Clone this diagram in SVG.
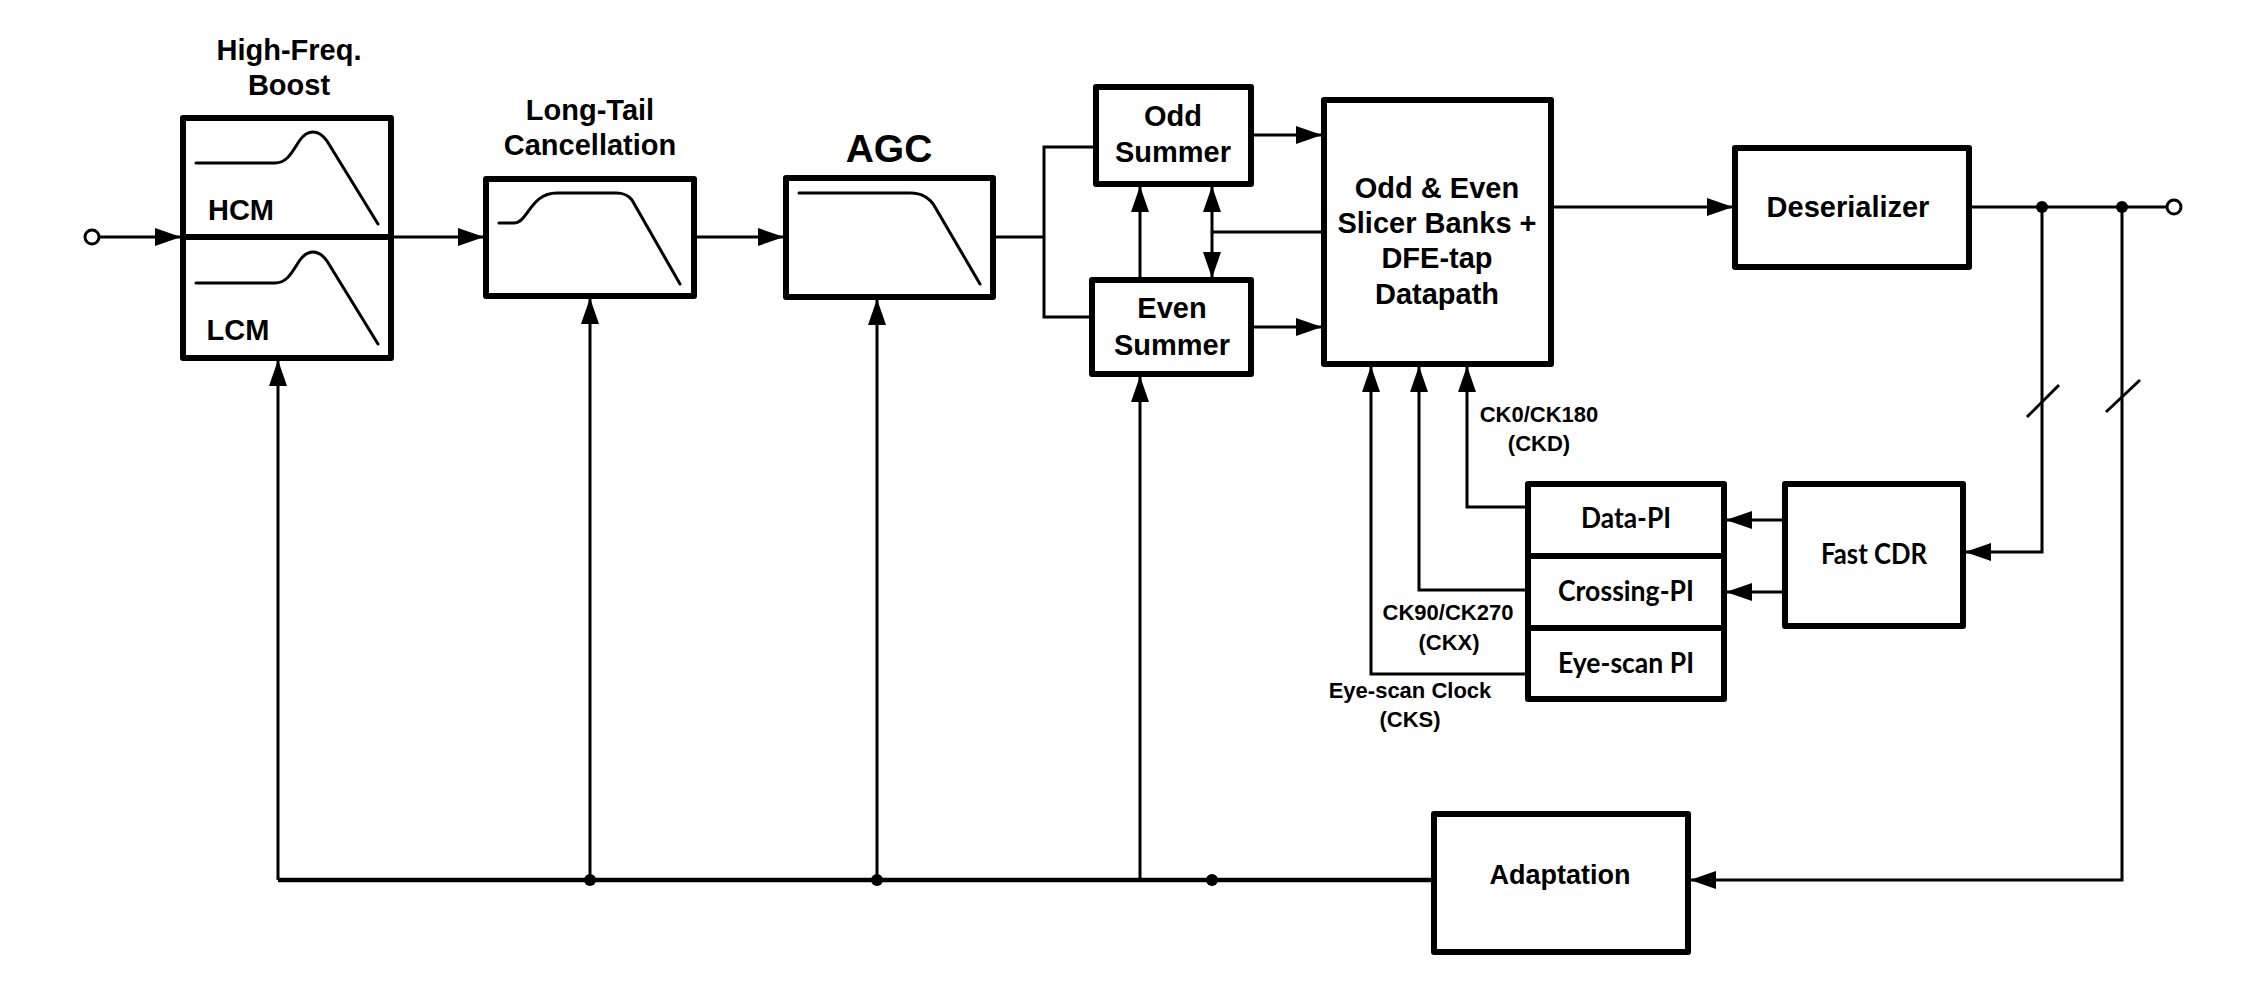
<svg xmlns="http://www.w3.org/2000/svg" width="2259" height="986" viewBox="0 0 2259 986">
<style>
.box{fill:#fff;stroke:#000;stroke-width:6;stroke-linejoin:round}
.div{stroke:#000;stroke-width:6}
.w{fill:none;stroke:#000;stroke-width:3}
.bus{fill:none;stroke:#000;stroke-width:4.5}
.a{marker-end:url(#ah)}
.aa{marker-end:url(#ah);marker-start:url(#ah)}
.t{font-family:"Liberation Sans",Arial,sans-serif;font-weight:bold;font-size:29px;text-anchor:middle;fill:#000}
.c{font-family:Lato,"Open Sans",sans-serif;font-weight:bold;font-size:28px;text-anchor:middle;fill:#000}
.s{font-size:22px}
.dot{fill:#000}
.curve{fill:none;stroke:#000;stroke-width:3;stroke-linecap:round;stroke-linejoin:round}
.port{fill:#fff;stroke:#000;stroke-width:3}
</style>
<defs>
<marker id="ah" markerUnits="userSpaceOnUse" markerWidth="26" markerHeight="18" viewBox="0 0 26 18" refX="25" refY="9" orient="auto-start-reverse"><path d="M0,0 L26,9 L0,18 z" fill="#000"/></marker>
</defs>

<g id="connectors">
<line class="w a" x1="99" y1="237" x2="180" y2="237"/>
<line class="w a" x1="394" y1="237" x2="483" y2="237"/>
<line class="w a" x1="697" y1="237" x2="783" y2="237"/>
<polyline class="w" points="996,237 1044,237"/>
<polyline class="w" points="1093,147 1044,147 1044,317 1089,317"/>
<line class="w a" x1="1254" y1="135" x2="1321" y2="135"/>
<line class="w a" x1="1254" y1="327" x2="1321" y2="327"/>
<line class="w a" x1="1140" y1="277" x2="1140" y2="187"/>
<line class="w aa" x1="1212" y1="277" x2="1212" y2="187"/>
<line class="w" x1="1212" y1="232" x2="1321" y2="232"/>
<line class="w a" x1="1554" y1="207" x2="1732" y2="207"/>
<line class="w" x1="1972" y1="207" x2="2167" y2="207"/>
<polyline class="w a" points="2042,207 2042,552 1966,552"/>
<polyline class="w a" points="2122,207 2122,880 1691,880"/>
<line class="w" x1="2027" y1="417" x2="2059" y2="385"/>
<line class="w" x1="2106" y1="412" x2="2140" y2="380"/>
<line class="w a" x1="1782" y1="520" x2="1727" y2="520"/>
<line class="w a" x1="1782" y1="592" x2="1727" y2="592"/>
<polyline class="w a" points="1525,507 1467,507 1467,367"/>
<polyline class="w a" points="1525,590 1419,590 1419,367"/>
<polyline class="w a" points="1525,674 1371,674 1371,367"/>
<line class="bus" x1="278" y1="880" x2="1431" y2="880"/>
<line class="w a" x1="278" y1="880" x2="278" y2="361"/>
<line class="w a" x1="590" y1="880" x2="590" y2="299"/>
<line class="w a" x1="877" y1="880" x2="877" y2="300"/>
<line class="w a" x1="1140" y1="880" x2="1140" y2="377"/>
<circle class="dot" cx="2042" cy="207" r="6"/>
<circle class="dot" cx="2122" cy="207" r="6"/>
<circle class="dot" cx="590" cy="880" r="6"/>
<circle class="dot" cx="877" cy="880" r="6"/>
<circle class="dot" cx="1212" cy="880" r="6"/>
<circle class="port" cx="92" cy="237" r="7"/>
<circle class="port" cx="2174" cy="207" r="7"/>
</g>

<g id="hfb">
<rect class="box" x="183" y="118" width="208" height="240"/>
<line class="div" x1="180" y1="237" x2="394" y2="237"/>
<path class="curve" d="M196,163 L275,163 C288,163 293,150 300,140 C305,133 309,132 313,132 C318,132 322,134 327,141 L378,224"/>
<path class="curve" d="M196,283 L275,283 C288,283 293,270 300,260 C305,253 309,252 313,252 C318,252 322,254 327,261 L378,344"/>
<text class="t" x="241" y="220" font-size="28">HCM</text>
<text class="t" x="238" y="340" font-size="28">LCM</text>
<text class="t" x="289" y="60">High-Freq.</text>
<text class="t" x="289" y="95">Boost</text>
</g>

<g id="ltc">
<rect class="box" x="486" y="179" width="208" height="117"/>
<path class="curve" d="M499,223 L514,223 C528,223 530,193 557,193 L616,193 C624,193 628,195 632,200 L680,284"/>
<text class="t" x="590" y="120">Long-Tail</text>
<text class="t" x="590" y="155">Cancellation</text>
</g>

<g id="agc">
<rect class="box" x="786" y="178" width="207" height="119"/>
<path class="curve" d="M799,193 L910,193 C922,193 930,198 935,207 L980,284"/>
<text class="t" x="889" y="162" style="font-size:39px">AGC</text>
</g>

<g id="odd-summer">
<rect class="box" x="1096" y="87" width="155" height="97"/>
<text class="t" x="1173" y="126">Odd</text>
<text class="t" x="1173" y="162">Summer</text>
</g>

<g id="even-summer">
<rect class="box" x="1092" y="280" width="159" height="94"/>
<text class="t" x="1172" y="318">Even</text>
<text class="t" x="1172" y="355">Summer</text>
</g>

<g id="slicer">
<rect class="box" x="1324" y="100" width="227" height="264"/>
<text class="t" x="1437" y="198">Odd &amp; Even</text>
<text class="t" x="1437" y="233">Slicer Banks +</text>
<text class="t" x="1437" y="268">DFE-tap</text>
<text class="t" x="1437" y="304">Datapath</text>
</g>

<g id="deserializer">
<rect class="box" x="1735" y="148" width="234" height="119"/>
<text class="t" x="1848" y="217">Deserializer</text>
</g>

<g id="pi">
<rect class="box" x="1528" y="484" width="196" height="215"/>
<line class="div" x1="1525" y1="556" x2="1727" y2="556"/>
<line class="div" x1="1525" y1="628" x2="1727" y2="628"/>
<text class="c" x="1626" y="528" textLength="90" lengthAdjust="spacingAndGlyphs">Data-PI</text>
<text class="c" x="1626" y="601" textLength="136" lengthAdjust="spacingAndGlyphs">Crossing-PI</text>
<text class="c" x="1626" y="673" textLength="136" lengthAdjust="spacingAndGlyphs">Eye-scan PI</text>
</g>

<g id="fast-cdr">
<rect class="box" x="1785" y="484" width="178" height="142"/>
<text class="c" x="1874" y="564" textLength="106" lengthAdjust="spacingAndGlyphs">Fast CDR</text>
</g>

<g id="adaptation">
<rect class="box" x="1434" y="814" width="254" height="138"/>
<text class="t" x="1560" y="884" style="font-size:27px">Adaptation</text>
</g>

<g id="labels">
<text class="t s" x="1539" y="422">CK0/CK180</text>
<text class="t s" x="1539" y="451">(CKD)</text>
<text class="t s" x="1448" y="620">CK90/CK270</text>
<text class="t s" x="1449" y="650">(CKX)</text>
<text class="t s" x="1410" y="698">Eye-scan Clock</text>
<text class="t s" x="1410" y="727">(CKS)</text>
</g>
</svg>
